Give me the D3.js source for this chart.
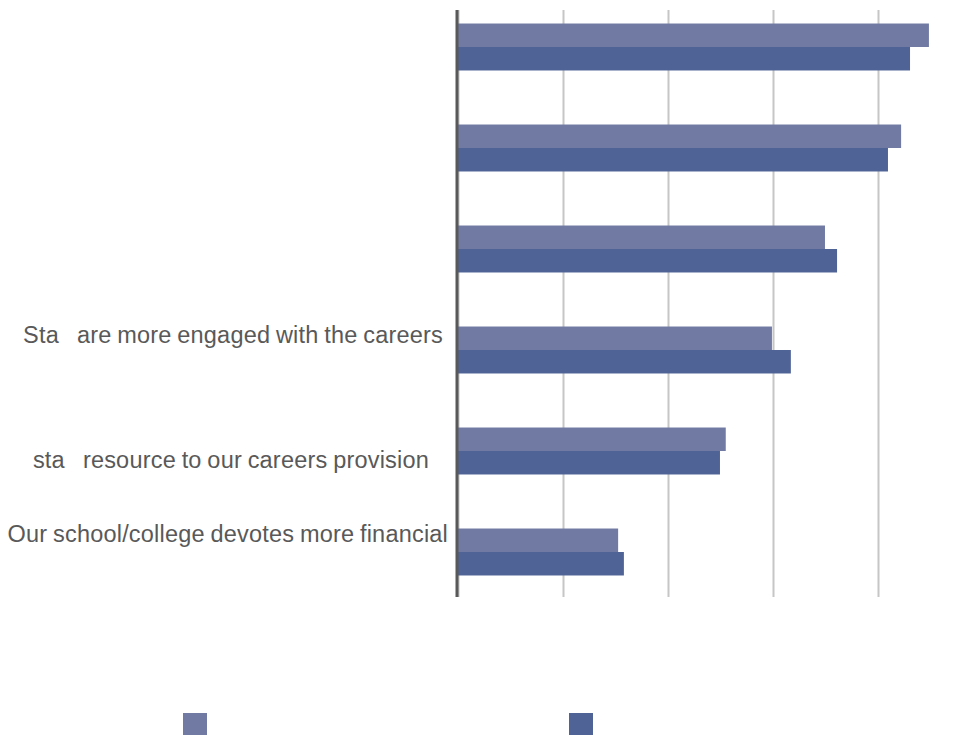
<!DOCTYPE html>
<html><head><meta charset="utf-8">
<script src="https://cdn.jsdelivr.net/npm/d3@7"></script>
<style>body{margin:0;background:#fff}svg{display:block}</style>
</head><body>
<svg id="c" width="974" height="735"></svg>
<script>
const categories = ["c1","c2","c3","c4","c5","c6"];
const labelParts = [
  [], [], [],
  ["Sta", "are more engaged with the careers"],
  ["sta", "resource to our careers provision"],
  ["Our school/college devotes more financial"]
];
const seriesA = [89.7, 84.4, 69.9, 59.8, 51.0, 30.5];
const seriesB = [86.1, 81.9, 72.2, 63.4, 49.9, 31.6];
const tickValues = [0, 20, 40, 60, 80, 100];
const series = [{key:"A", values: seriesA, color:"#717aa3"}, {key:"B", values: seriesB, color:"#506396"}];

const svg = d3.select("#c");
const x = d3.scaleLinear().domain([0,100]).range([458, 983]);
const y0 = d3.scaleBand().domain(categories).range([-3.5, 602.5]).paddingInner(0.535).paddingOuter(0.2675);
const y1 = d3.scaleBand().domain(series.map(s=>s.key)).range([0, y0.bandwidth()]);

// gridlines
const grid = svg.append("g").attr("transform","translate(0,597)")
  .call(d3.axisBottom(x).tickValues(tickValues).tickSize(-587).tickFormat(""));
grid.select(".domain").remove();
grid.selectAll("line").attr("stroke","#c6c6c6").attr("stroke-width",2);

// bars
series.forEach(s=>{
  svg.append("g").selectAll("rect").data(categories).join("rect")
    .attr("x", x(0))
    .attr("y", (c)=> y0(c) + y1(s.key))
    .attr("width", (c,i)=> x(s.values[i]) - x(0))
    .attr("height", y1.bandwidth())
    .attr("fill", s.color);
});

// axis line
svg.append("line").attr("x1",x(0)-1).attr("x2",x(0)-1).attr("y1",10).attr("y2",597)
  .attr("stroke","#595959").attr("stroke-width",3);

// labels
const labelShift = [0,0,0,-15,9,-18];
const labelEnd = [443,443,443,443,429,448];
categories.forEach((c,i)=>{
  const parts = labelParts[i];
  if(!parts.length) return;
  const t = svg.append("text")
    .attr("x", labelEnd[i])
    .attr("y", y0(c) + y0.bandwidth()/2 + labelShift[i])
    .attr("dy","0.35em")
    .attr("text-anchor","end")
    .attr("font-family","Liberation Sans, Arial, sans-serif")
    .attr("font-size", 23.5)
    .attr("letter-spacing", "0.2px")
    .attr("word-spacing", "-1px")
    .attr("fill","#595959");
  parts.forEach((p,j)=>{
    t.append("tspan").attr("dx", j>0 ? 18 : 0).text(p);
  });
});

// legend swatches
const legendX = [183, 569];
series.forEach((s,i)=>{
  svg.append("rect").attr("x",legendX[i]).attr("y",713).attr("width",24).attr("height",23).attr("fill",s.color);
});
</script>
</body></html>
